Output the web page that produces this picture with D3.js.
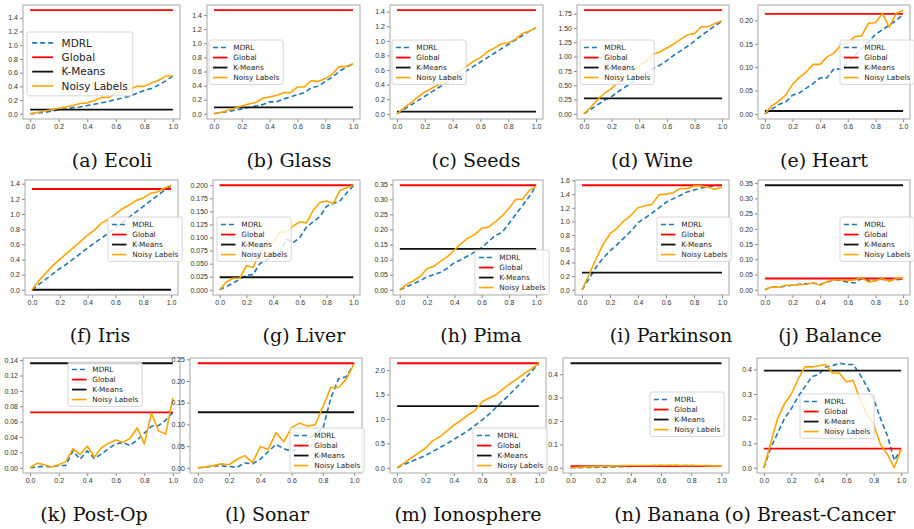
<!DOCTYPE html>
<html>
<head>
<meta charset="utf-8">
<script src="https://cdn.jsdelivr.net/npm/d3@7"></script>
<style>
  body { margin: 0; background: #ffffff; }
  svg { display: block; }
</style>
</head>
<body>
<div id="chart"></div>
<script>
// # **Noise-level panels**
// fifteen small line charts, one per dataset, each showing MDRL vs the
// Global / K-Means baselines vs Noisy Labels over the noise ratio (0 -> 1)

// ### data
var x_values = [0, 0.05, 0.1, 0.15, 0.2, 0.25, 0.3, 0.35, 0.4, 0.45, 0.5, 0.55, 0.6, 0.65, 0.7, 0.75, 0.8, 0.85, 0.9, 0.95, 1.0];
var x_ticks = [0, 0.2, 0.4, 0.6, 0.8, 1.0];

var dataset_names = ["Ecoli", "Glass", "Seeds", "Wine", "Heart", "Iris", "Liver", "Pima", "Parkinson", "Balance",
                     "Post-Op", "Sonar", "Ionosphere", "Banana", "Breast-Cancer"];
var series_names = ["MDRL", "Global", "K-Means", "Noisy Labels"];

var global_levels = [1.51, 1.47, 1.42, 1.81, 0.214, 1.33, 0.2, 0.347, 1.53, 0.037, 0.072, 0.241, 2.14, 0.007, 0.078];
var kmeans_levels = [0.06, 0.09, 0.03, 0.27, 0.006, 0.0, 0.024, 0.136, 0.25, 0.343, 0.136, 0.128, 1.26, 0.447, 0.395];

var mdrl_ecoli = [0, 0.01, 0.02, 0.04, 0.06, 0.07, 0.09, 0.10, 0.12, 0.14, 0.16, 0.18, 0.21, 0.23, 0.26, 0.30, 0.34, 0.37, 0.42, 0.48, 0.55];
var noisy_ecoli = [0, 0.02, 0.04, 0.06, 0.08, 0.10, 0.12, 0.15, 0.16, 0.19, 0.24, 0.24, 0.30, 0.32, 0.36, 0.40, 0.40, 0.45, 0.49, 0.55, 0.55];

var mdrl_glass = [0, 0.02, 0.03, 0.05, 0.07, 0.09, 0.11, 0.13, 0.17, 0.17, 0.21, 0.24, 0.27, 0.30, 0.37, 0.39, 0.46, 0.52, 0.60, 0.66, 0.71];
var noisy_glass = [0, 0.02, 0.05, 0.08, 0.11, 0.14, 0.16, 0.22, 0.24, 0.26, 0.30, 0.30, 0.38, 0.38, 0.47, 0.46, 0.50, 0.56, 0.67, 0.67, 0.71];

var mdrl_seeds = [0, 0.06, 0.12, 0.18, 0.24, 0.30, 0.36, 0.42, 0.47, 0.53, 0.59, 0.65, 0.71, 0.77, 0.83, 0.89, 0.95, 1.01, 1.07, 1.13, 1.18];
var noisy_seeds = [0, 0.08, 0.15, 0.23, 0.30, 0.35, 0.40, 0.47, 0.53, 0.58, 0.65, 0.72, 0.77, 0.85, 0.90, 0.96, 0.97, 1.02, 1.10, 1.13, 1.18];

var mdrl_wine = [0, 0.08, 0.16, 0.24, 0.30, 0.39, 0.47, 0.55, 0.63, 0.71, 0.79, 0.85, 0.93, 1.02, 1.10, 1.18, 1.27, 1.37, 1.45, 1.54, 1.62];
var noisy_wine = [0, 0.12, 0.25, 0.36, 0.44, 0.56, 0.63, 0.73, 0.85, 0.92, 1.04, 1.08, 1.15, 1.22, 1.30, 1.38, 1.40, 1.52, 1.52, 1.58, 1.62];

var mdrl_heart = [0, 0.01, 0.02, 0.025, 0.04, 0.045, 0.055, 0.065, 0.077, 0.077, 0.097, 0.095, 0.11, 0.125, 0.14, 0.155, 0.17, 0.18, 0.19, 0.20, 0.213];
var noisy_heart = [0, 0.017, 0.027, 0.04, 0.063, 0.078, 0.09, 0.106, 0.106, 0.122, 0.13, 0.148, 0.152, 0.165, 0.167, 0.194, 0.195, 0.215, 0.185, 0.215, 0.222];

var mdrl_iris = [0, 0.07, 0.14, 0.21, 0.28, 0.34, 0.41, 0.48, 0.55, 0.62, 0.68, 0.75, 0.82, 0.89, 0.96, 1.03, 1.10, 1.17, 1.24, 1.31, 1.37];
var noisy_iris = [0, 0.12, 0.22, 0.32, 0.40, 0.48, 0.56, 0.64, 0.72, 0.79, 0.88, 0.93, 1.00, 1.07, 1.12, 1.18, 1.21, 1.27, 1.29, 1.34, 1.38];

var mdrl_liver = [0, 0.006, 0.013, 0.02, 0.028, 0.029, 0.05, 0.057, 0.064, 0.07, 0.097, 0.09, 0.10, 0.12, 0.13, 0.14, 0.16, 0.165, 0.17, 0.185, 0.199];
var noisy_liver = [0, 0.015, 0.022, 0.022, 0.046, 0.043, 0.07, 0.089, 0.089, 0.111, 0.11, 0.122, 0.13, 0.128, 0.152, 0.167, 0.17, 0.165, 0.19, 0.195, 0.2];

var mdrl_pima = [0, 0.01, 0.02, 0.03, 0.043, 0.05, 0.058, 0.072, 0.09, 0.10, 0.113, 0.125, 0.14, 0.16, 0.18, 0.19, 0.22, 0.25, 0.28, 0.31, 0.345];
var noisy_pima = [0, 0.018, 0.03, 0.045, 0.07, 0.078, 0.095, 0.11, 0.132, 0.153, 0.172, 0.183, 0.204, 0.208, 0.225, 0.245, 0.27, 0.30, 0.30, 0.33, 0.343];

var mdrl_parkinson = [0, 0.16, 0.33, 0.46, 0.57, 0.66, 0.76, 0.86, 0.98, 1.05, 1.12, 1.20, 1.28, 1.33, 1.38, 1.43, 1.46, 1.49, 1.51, 1.52, 1.53];
var noisy_parkinson = [0, 0.22, 0.45, 0.66, 0.82, 0.90, 1.01, 1.09, 1.20, 1.23, 1.25, 1.39, 1.40, 1.42, 1.48, 1.48, 1.52, 1.52, 1.50, 1.47, 1.50];

var mdrl_balance = [0, 0.01, 0.008, 0.012, 0.015, 0.018, 0.02, 0.022, 0.018, 0.025, 0.032, 0.03, 0.025, 0.022, 0.038, 0.03, 0.03, 0.035, 0.03, 0.033, 0.035];
var noisy_balance = [0, 0.01, 0.008, 0.015, 0.015, 0.017, 0.018, 0.022, 0.015, 0.027, 0.033, 0.032, 0.03, 0.032, 0.04, 0.025, 0.03, 0.037, 0.028, 0.037, 0.038];

var mdrl_postop = [0, 0.001, 0.002, 0.001, 0.003, 0.003, 0.022, 0.011, 0.022, 0.012, 0.018, 0.025, 0.031, 0.033, 0.029, 0.036, 0.045, 0.054, 0.055, 0.062, 0.072];
var noisy_postop = [0, 0.006, 0.004, 0.001, 0.004, 0.008, 0.025, 0.017, 0.028, 0.014, 0.026, 0.032, 0.036, 0.033, 0.038, 0.052, 0.031, 0.071, 0.048, 0.044, 0.091];

var mdrl_sonar = [0, 0.001, 0.004, 0.004, 0.003, 0.001, 0.011, 0.009, 0.02, 0.037, 0.054, 0.044, 0.038, 0.045, 0.06, 0.079, 0.09, 0.16, 0.205, 0.21, 0.24];
var noisy_sonar = [0, 0.002, 0.005, 0.009, 0.007, 0.019, 0.028, 0.012, 0.049, 0.042, 0.081, 0.06, 0.093, 0.103, 0.096, 0.099, 0.14, 0.185, 0.185, 0.205, 0.24];

var mdrl_ionosphere = [0, 0.07, 0.13, 0.19, 0.25, 0.33, 0.41, 0.49, 0.58, 0.67, 0.76, 0.87, 0.98, 1.10, 1.24, 1.38, 1.52, 1.67, 1.82, 1.98, 2.13];
var noisy_ionosphere = [0, 0.10, 0.20, 0.30, 0.40, 0.55, 0.63, 0.75, 0.87, 0.97, 1.08, 1.17, 1.35, 1.43, 1.50, 1.62, 1.73, 1.83, 1.93, 2.03, 2.14];

var mdrl_banana = [0, 0.0005, 0.001, 0.0015, 0.002, 0.003, 0.004, 0.005, 0.006, 0.007, 0.008, 0.009, 0.009, 0.009, 0.009, 0.009, 0.009, 0.008, 0.008, 0.008, 0.008];
var noisy_banana = [0, 0.002, 0.004, 0.005, 0.006, 0.007, 0.008, 0.009, 0.010, 0.010, 0.010, 0.010, 0.011, 0.011, 0.011, 0.010, 0.010, 0.010, 0.009, 0.008, 0.007];

var mdrl_breast = [0, 0.08, 0.14, 0.20, 0.24, 0.29, 0.33, 0.37, 0.38, 0.41, 0.415, 0.425, 0.42, 0.42, 0.38, 0.33, 0.28, 0.20, 0.13, 0.03, 0.075];
var noisy_breast = [0, 0.10, 0.20, 0.26, 0.30, 0.36, 0.41, 0.41, 0.415, 0.42, 0.385, 0.385, 0.35, 0.355, 0.28, 0.22, 0.175, 0.095, 0.055, 0.0, 0.075];

var mdrl_series = [mdrl_ecoli, mdrl_glass, mdrl_seeds, mdrl_wine, mdrl_heart, mdrl_iris, mdrl_liver, mdrl_pima,
                   mdrl_parkinson, mdrl_balance, mdrl_postop, mdrl_sonar, mdrl_ionosphere, mdrl_banana, mdrl_breast];
var noisy_series = [noisy_ecoli, noisy_glass, noisy_seeds, noisy_wine, noisy_heart, noisy_iris, noisy_liver, noisy_pima,
                    noisy_parkinson, noisy_balance, noisy_postop, noisy_sonar, noisy_ionosphere, noisy_banana, noisy_breast];

// y tick values per panel, and the label format for each
var y_ticks = [
  [0, 0.2, 0.4, 0.6, 0.8, 1.0, 1.2, 1.4],
  [0, 0.2, 0.4, 0.6, 0.8, 1.0, 1.2, 1.4],
  [0, 0.2, 0.4, 0.6, 0.8, 1.0, 1.2, 1.4],
  [0, 0.25, 0.5, 0.75, 1.0, 1.25, 1.5, 1.75],
  [0, 0.05, 0.1, 0.15, 0.2],
  [0, 0.2, 0.4, 0.6, 0.8, 1.0, 1.2, 1.4],
  [0, 0.025, 0.05, 0.075, 0.1, 0.125, 0.15, 0.175, 0.2],
  [0, 0.05, 0.1, 0.15, 0.2, 0.25, 0.3, 0.35],
  [0, 0.2, 0.4, 0.6, 0.8, 1.0, 1.2, 1.4, 1.6],
  [0, 0.05, 0.1, 0.15, 0.2, 0.25, 0.3, 0.35],
  [0, 0.02, 0.04, 0.06, 0.08, 0.1, 0.12, 0.14],
  [0, 0.05, 0.1, 0.15, 0.2, 0.25],
  [0, 0.5, 1.0, 1.5, 2.0],
  [0, 0.1, 0.2, 0.3, 0.4],
  [0, 0.1, 0.2, 0.3, 0.4]
];
var y_formats = [".1f", ".1f", ".1f", ".2f", ".2f", ".1f", ".3f", ".2f", ".1f", ".2f", ".2f", ".2f", ".1f", ".1f", ".1f"];

// ### layout (pixels): axes box [left, top, right, bottom], legend top-left, legend font, caption centre
var axes_boxes = [
  [23, 5, 180, 119], [207, 5, 360, 119], [390, 5, 543, 119], [577, 5, 729, 119], [758, 5, 910, 119],
  [25, 180, 178, 295], [213, 180, 360, 295], [393, 180, 543, 295], [575, 180, 729, 295], [758, 180, 910, 295],
  [23, 358, 180, 473], [190, 358, 362, 473], [390, 358, 546, 473], [563, 358, 729, 473], [757, 358, 908, 473]
];
var legend_spots = [
  [27, 32], [209, 40], [392, 40], [580, 40], [840, 40],
  [108, 217], [217, 217], [475, 250], [657, 217], [840, 217],
  [68, 362], [290, 428], [473, 428], [650, 392], [800, 394]
];
var legend_fonts = [10.5, 7.3, 7.3, 7.3, 7.3, 7.3, 7.3, 7.3, 7.3, 7.3, 7.3, 7.3, 7.3, 7.3, 7.3];
var caption_spots = [
  [112, 167], [289, 167], [476, 167], [652, 167], [824, 167],
  [100, 342], [304, 342], [481, 342], [671, 342], [830, 342],
  [94, 521], [267, 521], [468, 521], [667, 521], [810, 521]
];

var colors = {mdrl: "#1f77b4", global: "#ff0000", kmeans: "#111111", noisy: "#ffa500"};

var svg = d3.select("#chart").append("svg")
  .attr("width", 914)
  .attr("height", 529)
  .style("font-family", "'DejaVu Sans', sans-serif");

// ### draw_panel
// one small chart: frame, axes, the four lines, legend and caption
function draw_panel(i){
  var box = axes_boxes[i];
  var mdrl = mdrl_series[i], noisy = noisy_series[i];
  var glob = x_values.map(function(){ return global_levels[i]; });
  var kmeans = x_values.map(function(){ return kmeans_levels[i]; });

  // matplotlib style auto-limits with 5% margins
  var all = mdrl.concat(noisy, glob, kmeans);
  var lo = d3.min(all), hi = d3.max(all), pad = (hi - lo) * 0.05;

  var x = d3.scaleLinear().domain([-0.05, 1.05]).range([box[0], box[2]]);
  var y = d3.scaleLinear().domain([lo - pad, hi + pad]).range([box[3], box[1]]);

  var g = svg.append("g").attr("class", "panel");

  // axes
  var x_axis = d3.axisBottom(x).tickValues(x_ticks).tickFormat(d3.format(".1f")).tickSize(3).tickPadding(2);
  var y_axis = d3.axisLeft(y).tickValues(y_ticks[i]).tickFormat(d3.format(y_formats[i])).tickSize(3).tickPadding(2);

  var xg = g.append("g").attr("transform", "translate(0," + box[3] + ")").call(x_axis);
  var yg = g.append("g").attr("transform", "translate(" + box[0] + ",0)").call(y_axis);
  [xg, yg].forEach(function(a){
    a.select(".domain").remove();
    a.selectAll(".tick line").attr("stroke", "#666").attr("stroke-width", 0.8);
    a.selectAll(".tick text").attr("fill", "#333").style("font-size", "7px");
  });

  // lines, drawn in matplotlib plot order
  var line = d3.line().x(function(d, j){ return x(x_values[j]); }).y(function(d){ return y(d); });
  var layers = [
    {vals: mdrl, color: colors.mdrl, w: 1.6, dash: "5,3"},
    {vals: glob, color: colors.global, w: 1.8, dash: null},
    {vals: kmeans, color: colors.kmeans, w: 1.8, dash: null},
    {vals: noisy, color: colors.noisy, w: 1.6, dash: null}
  ];
  layers.forEach(function(l){
    g.append("path")
      .attr("d", line(l.vals))
      .attr("fill", "none")
      .attr("stroke", l.color)
      .attr("stroke-width", l.w)
      .attr("stroke-dasharray", l.dash)
      .attr("stroke-linejoin", "round");
  });

  // frame
  g.append("rect")
    .attr("x", box[0]).attr("y", box[1])
    .attr("width", box[2] - box[0]).attr("height", box[3] - box[1])
    .attr("fill", "none").attr("stroke", "#a8a8a8").attr("stroke-width", 1);

  draw_legend(g, legend_spots[i], legend_fonts[i], layers);

  // caption below the panel
  var cap = caption_spots[i];
  svg.append("text")
    .attr("x", cap[0]).attr("y", cap[1])
    .attr("text-anchor", "middle")
    .style("font-family", "'DejaVu Serif', serif")
    .style("font-size", "19px")
    .attr("fill", "#111")
    .text("(" + String.fromCharCode(97 + i) + ") " + dataset_names[i]);
}

// ### draw_legend
// matplotlib-like legend box (units in font size)
function draw_legend(g, spot, fs, layers){
  var pitch = fs * 1.37, pad = fs * 0.4, handle = fs * 2.0, gap = fs * 0.8;
  var lg = g.append("g").attr("transform", "translate(" + spot[0] + "," + spot[1] + ")");
  var bg = lg.append("rect");
  var widest = 0;
  series_names.forEach(function(name, k){
    var cy = pad + pitch * k + pitch / 2 - fs * 0.05;
    var l = layers[k];
    lg.append("line")
      .attr("x1", pad + 1).attr("x2", pad + 1 + handle)
      .attr("y1", cy).attr("y2", cy)
      .attr("stroke", l.color).attr("stroke-width", l.w)
      .attr("stroke-dasharray", l.dash);
    var t = lg.append("text")
      .attr("x", pad + 1 + handle + gap).attr("y", cy)
      .attr("dy", "0.35em")
      .style("font-size", fs + "px")
      .attr("fill", "#222")
      .text(name);
    widest = Math.max(widest, t.node().getComputedTextLength());
  });
  bg.attr("width", pad * 2 + 2 + handle + gap + widest)
    .attr("height", pad * 2 + pitch * 4 - fs * 0.2)
    .attr("rx", 2).attr("ry", 2)
    .attr("fill", "#ffffff").attr("fill-opacity", 0.8)
    .attr("stroke", "#cccccc").attr("stroke-width", 0.8);
}

dataset_names.forEach(function(d, i){ draw_panel(i); });
</script>
</body>
</html>
